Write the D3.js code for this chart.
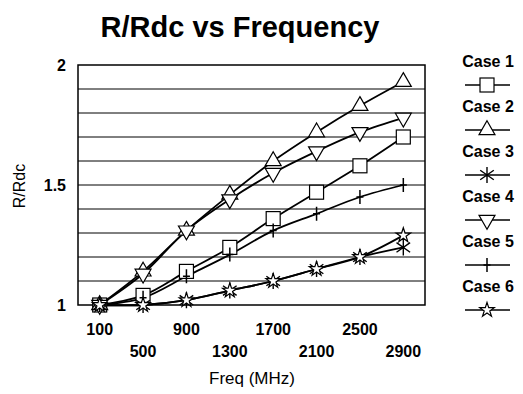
<!DOCTYPE html>
<html>
<head>
<meta charset="utf-8">
<script src="https://cdn.jsdelivr.net/npm/d3@7"></script>
<style>
  body { margin: 0; background: #fff; }
  svg { font-family: Arial, "Liberation Sans", sans-serif; }
</style>
</head>
<body>
<div id="chart"></div>
<script>
const freqs = [100, 500, 900, 1300, 1700, 2100, 2500, 2900];
const caseNames = ['Case 1', 'Case 2', 'Case 3', 'Case 4', 'Case 5', 'Case 6'];
const case1 = [1.00, 1.04, 1.14, 1.24, 1.36, 1.47, 1.58, 1.70];
const case2 = [1.00, 1.14, 1.31, 1.46, 1.60, 1.72, 1.83, 1.93];
const case3 = [1.00, 1.00, 1.02, 1.06, 1.10, 1.15, 1.20, 1.24];
const case4 = [1.00, 1.13, 1.31, 1.44, 1.55, 1.64, 1.72, 1.78];
const case5 = [1.00, 1.03, 1.12, 1.21, 1.31, 1.38, 1.45, 1.50];
const case6 = [1.00, 1.00, 1.02, 1.06, 1.10, 1.15, 1.20, 1.29];
const yTickLabels = [1, 1.5, 2];

const width = 523, height = 394;
const plot = { left: 78, right: 425, top: 65, bottom: 305 };
const series = [case1, case2, case3, case4, case5, case6];
const markerTypes = ['square', 'triUp', 'asterisk', 'triDown', 'plus', 'star'];

const svg = d3.select('#chart').append('svg').attr('width', width).attr('height', height);

const x = d3.scaleBand().domain(freqs).range([plot.left, plot.right]);
const y = d3.scaleLinear().domain([1, 2]).range([plot.bottom, plot.top]);
const cx = f => x(f) + x.bandwidth() / 2;

// gridlines every 0.1
svg.append('g')
  .selectAll('line')
  .data(d3.range(1.1, 2.0, 0.1))
  .enter()
  .append('line')
  .attr('x1', plot.left).attr('x2', plot.right)
  .attr('y1', d => y(d)).attr('y2', d => y(d))
  .style('stroke', '#000')
  .style('stroke-width', 1);

svg.append('rect')
  .attr('x', plot.left).attr('y', plot.top)
  .attr('width', plot.right - plot.left).attr('height', plot.bottom - plot.top)
  .style('fill', 'none').style('stroke', '#000').style('stroke-width', 1.5);

// y labels
svg.append('g')
  .selectAll('text')
  .data(yTickLabels)
  .enter()
  .append('text')
  .attr('x', 66).attr('y', d => y(d) + 6)
  .attr('text-anchor', 'end')
  .style('font-size', '16px').style('font-weight', 'bold')
  .text(d => d);

// x labels, staggered on two rows
svg.append('g')
  .selectAll('text')
  .data(freqs)
  .enter()
  .append('text')
  .attr('x', d => cx(d))
  .attr('y', (d, i) => (i % 2 === 0 ? 335 : 357))
  .attr('text-anchor', 'middle')
  .style('font-size', '16px').style('font-weight', 'bold')
  .text(d => d);

svg.append('text')
  .attr('x', 252).attr('y', 384)
  .attr('text-anchor', 'middle')
  .style('font-size', '17px')
  .text('Freq (MHz)');

svg.append('text')
  .attr('transform', 'translate(25,186) rotate(-90)')
  .attr('text-anchor', 'middle')
  .style('font-size', '16px')
  .text('R/Rdc');

svg.append('text')
  .attr('x', 240).attr('y', 37)
  .attr('text-anchor', 'middle')
  .style('font-size', '29px').style('font-weight', 'bold')
  .text('R/Rdc vs Frequency');

function drawMarker(g, type) {
  const s = 7;
  if (type === 'square') {
    g.append('rect').attr('x', -s).attr('y', -s).attr('width', 2 * s).attr('height', 2 * s)
      .style('fill', '#fff').style('stroke', '#000').style('stroke-width', 1.2);
  } else if (type === 'triUp' || type === 'triDown') {
    g.append('path')
      .attr('d', d3.symbol().type(d3.symbolTriangle).size(110)())
      .attr('transform', type === 'triDown' ? 'rotate(180)' : null)
      .style('fill', '#fff').style('stroke', '#000').style('stroke-width', 1.2);
  } else if (type === 'asterisk') {
    const a = 8;
    g.append('path')
      .attr('d', `M0,${-a}L0,${a}M${-a * 0.85},${-a * 0.6}L${a * 0.85},${a * 0.6}M${-a * 0.85},${a * 0.6}L${a * 0.85},${-a * 0.6}`)
      .style('stroke', '#000').style('stroke-width', 1.4);
  } else if (type === 'plus') {
    g.append('path')
      .attr('d', `M0,${-s}L0,${s}M${-s * 0.5},0L${s * 0.5},0`)
      .style('stroke', '#000').style('stroke-width', 1.5);
  } else if (type === 'star') {
    g.append('path')
      .attr('d', d3.symbol().type(d3.symbolStar).size(65)())
      .style('fill', '#fff').style('stroke', '#000').style('stroke-width', 1.2);
  }
}

const line = d3.line()
  .x((d, i) => cx(freqs[i]))
  .y(d => y(d))
  .curve(d3.curveCatmullRom.alpha(0.5));

series.forEach((vals, k) => {
  svg.append('path')
    .datum(vals)
    .attr('d', line)
    .style('fill', 'none').style('stroke', '#000').style('stroke-width', 1.8);
});

series.forEach((vals, k) => {
  vals.forEach((v, i) => {
    const g = svg.append('g').attr('transform', `translate(${cx(freqs[i])},${y(v)})`);
    drawMarker(g, markerTypes[k]);
  });
});

// legend
const legend = svg.append('g');
caseNames.forEach((name, k) => {
  const ty = 67 + k * 45;
  legend.append('text')
    .attr('x', 488).attr('y', ty)
    .attr('text-anchor', 'middle')
    .style('font-size', '16px').style('font-weight', 'bold')
    .text(name);
  legend.append('line')
    .attr('x1', 465).attr('x2', 510)
    .attr('y1', ty + 18).attr('y2', ty + 18)
    .style('stroke', '#000').style('stroke-width', 1.5);
  drawMarker(legend.append('g').attr('transform', `translate(487,${ty + 18})`), markerTypes[k]);
});
</script>
</body>
</html>
